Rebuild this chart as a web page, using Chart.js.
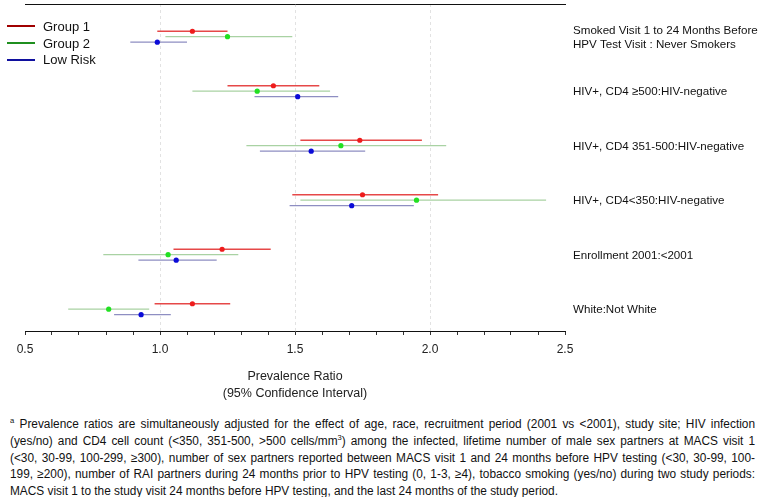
<!DOCTYPE html>
<html>
<head>
<meta charset="utf-8">
<script src="https://cdn.jsdelivr.net/npm/chart.js@4.4.1/dist/chart.umd.min.js"></script>
<style>
html,body{margin:0;padding:0;background:#fff;}
#wrap{position:relative;width:763px;height:497px;overflow:hidden;font-family:"Liberation Sans",Arial,sans-serif;}
#c{position:absolute;left:0;top:0;}
#legend{position:absolute;left:7px;top:18px;}
.li{display:flex;align-items:center;height:16.7px;font-size:13px;color:#111;}
.li .sw{display:inline-block;width:28px;height:2px;margin-right:8px;}
#foot{position:absolute;left:10px;top:416px;width:745px;color:#111;}
.fl{white-space:nowrap;height:16.8px;line-height:16.8px;font-size:12.5px;transform-origin:0 0;
  font-family:"Liberation Sans Narrow","Arial Narrow","Liberation Sans",Arial,sans-serif;}
.fl span{display:inline-block;}
sup{font-size:8px;line-height:0;vertical-align:5px;}
</style>
</head>
<body>
<div id="wrap">
  <canvas id="c" width="763" height="405"></canvas>
  <div id="legend"></div>
  <div id="foot"></div>
</div>
<script>
// ---------- data ----------
const rowLabels = [
  ['Smoked Visit 1 to 24 Months Before', 'HPV Test Visit : Never Smokers'],
  'HIV+, CD4 \u2265500:HIV-negative',
  'HIV+, CD4 351-500:HIV-negative',
  'HIV+, CD4<350:HIV-negative',
  'Enrollment 2001:<2001',
  'White:Not White'
];
const seriesNames = ['Group 1', 'Group 2', 'Low Risk'];

const group1PR = [1.12, 1.42, 1.74, 1.75, 1.23, 1.12];
const group1Lo = [0.99, 1.25, 1.52, 1.49, 1.05, 0.98];
const group1Hi = [1.25, 1.59, 1.97, 2.03, 1.41, 1.26];

const group2PR = [1.25, 1.36, 1.67, 1.95, 1.03, 0.81];
const group2Lo = [1.02, 1.12, 1.32, 1.52, 0.79, 0.66];
const group2Hi = [1.49, 1.63, 2.06, 2.43, 1.29, 0.96];

const lowPR = [0.99, 1.51, 1.56, 1.71, 1.06, 0.93];
const lowLo = [0.89, 1.35, 1.37, 1.48, 0.92, 0.83];
const lowHi = [1.10, 1.66, 1.76, 1.94, 1.21, 1.04];

const xTickValues = [0.5, 1.0, 1.5, 2.0, 2.5];
const xTickLabels = ['0.5', '1.0', '1.5', '2.0', '2.5'];
const xGridValues = [1.0, 1.5, 2.0];
const xAxisTitle = ['Prevalence Ratio', '(95% Confidence Interval)'];

const footLines = [
  '<sup>a</sup> Prevalence ratios are simultaneously adjusted for the effect of age, race, recruitment period (2001 vs &lt;2001), study site; HIV infection',
  '(yes/no) and CD4 cell count (&lt;350, 351-500, &gt;500 cells/mm<sup>3</sup>) among the infected, lifetime number of male sex partners at MACS visit 1',
  '(&lt;30, 30-99, 100-299, \u2265300), number of sex partners reported between MACS visit 1 and 24 months before HPV testing (&lt;30, 30-99, 100-',
  '199, \u2265200), number of RAI partners during 24 months prior to HPV testing (0, 1-3, \u22654), tobacco smoking (yes/no) during two study periods:',
  'MACS visit 1 to the study visit 24 months before HPV testing, and the last 24 months of the study period.'
];

// ---------- styles ----------
const FONT = '"Liberation Sans", Arial, sans-serif';
const styles = [
  {legend: '#A00000', point: '#EE1C1C', ci: 'rgba(226,40,40,0.85)', off: 0.0},
  {legend: '#1F8F1F', point: '#22E022', ci: '#A9D2A3', off: 0.1},
  {legend: '#10109E', point: '#0B0BD8', ci: '#8E8EC2', off: 0.2}
];
const LABEL_OFF = 0.12;
const series = [
  {pr: group1PR, lo: group1Lo, hi: group1Hi},
  {pr: group2PR, lo: group2Lo, hi: group2Hi},
  {pr: lowPR, lo: lowLo, hi: lowHi}
];

const datasets = [];
series.forEach((s, g) => {
  const st = styles[g];
  const ci = [];
  s.lo.forEach((l, i) => { ci.push({x: l, y: i + st.off}, {x: s.hi[i], y: i + st.off}, {x: null, y: null}); });
  datasets.push({
    label: seriesNames[g] + ' CI', data: ci, showLine: true, spanGaps: false,
    borderColor: st.ci, borderWidth: 1.3, pointRadius: 0, fill: false, order: 2
  });
  datasets.push({
    label: seriesNames[g], data: s.pr.map((v, i) => ({x: v, y: i + st.off})),
    pointRadius: 2.6, pointBorderWidth: 0, backgroundColor: st.point, borderColor: st.point, order: 0
  });
});

const near = (a, b) => Math.abs(a - b) < 1e-6;

new Chart(document.getElementById('c'), {
  type: 'scatter',
  data: {datasets},
  options: {
    responsive: false, animation: false, events: [],
    layout: {padding: {left: 25, top: 3, right: 0, bottom: 0}},
    plugins: {legend: {display: false}, tooltip: {enabled: false}},
    scales: {
      x: {
        type: 'linear', position: 'bottom', min: 0.5, max: 2.5,
        ticks: {
          stepSize: 0.1, autoSkip: false, maxRotation: 0, padding: 7,
          color: '#222', font: {size: 12, family: FONT},
          callback: (v) => { const i = xTickValues.findIndex(t => near(t, v)); return i >= 0 ? xTickLabels[i] : ''; }
        },
        grid: {
          color: (ctx) => (ctx.tick && xGridValues.some(t => near(t, ctx.tick.value))) ? '#E2E2E2' : 'rgba(0,0,0,0)',
          drawTicks: true, tickLength: 4, tickColor: '#333', lineWidth: 1
        },
        border: {display: true, color: '#111', width: 1, dash: [3, 3]},
        title: {
          display: true, text: xAxisTitle, color: '#222',
          font: {size: 12.5, family: FONT, lineHeight: '17px'}, padding: {top: 0, bottom: 3}
        },
        afterFit: (s) => { s.height = 74; }
      },
      x2: {
        type: 'linear', position: 'top', min: 0.5, max: 2.5,
        ticks: {display: false},
        grid: {display: false, drawTicks: false},
        border: {display: true, color: '#111', width: 1},
        afterFit: (s) => { s.height = 0; }
      },
      y: {
        type: 'linear', position: 'right', reverse: true, min: -0.5, max: 5.5,
        afterBuildTicks: (s) => { s.ticks = rowLabels.map((l, i) => ({value: i + LABEL_OFF})); },
        ticks: {
          autoSkip: false, padding: 8, color: '#111', crossAlign: 'near',
          font: {size: 11.6, family: FONT, lineHeight: 1.15},
          callback: (v, i) => rowLabels[i]
        },
        grid: {display: false, drawTicks: false},
        border: {display: false},
        afterFit: (s) => { s.width = 198; s.paddingTop = 0; s.paddingBottom = 0; }
      }
    }
  }
});

// ---------- legend (HTML, from series names / styles) ----------
const lg = document.getElementById('legend');
seriesNames.forEach((n, g) => {
  const d = document.createElement('div');
  d.className = 'li';
  d.innerHTML = '<span class="sw" style="background:' + styles[g].legend + '"></span><span>' + n + '</span>';
  lg.appendChild(d);
});

// ---------- footnote ----------
const foot = document.getElementById('foot');
footLines.forEach(t => {
  const d = document.createElement('div');
  d.className = 'fl';
  d.innerHTML = '<span>' + t + '</span>';
  foot.appendChild(d);
});
const spans = [...foot.querySelectorAll('.fl > span')];
const FULL = 745, LAST = 548;
const sx = LAST / spans[spans.length - 1].getBoundingClientRect().width;
spans.forEach((s, i) => {
  if (i < spans.length - 1) {
    const w = s.getBoundingClientRect().width;
    const gaps = (s.textContent.match(/ /g) || []).length;
    s.style.wordSpacing = ((FULL / sx - w) / gaps) + 'px';
  }
  s.parentElement.style.transform = 'scaleX(' + sx + ')';
});
</script>
</body>
</html>
